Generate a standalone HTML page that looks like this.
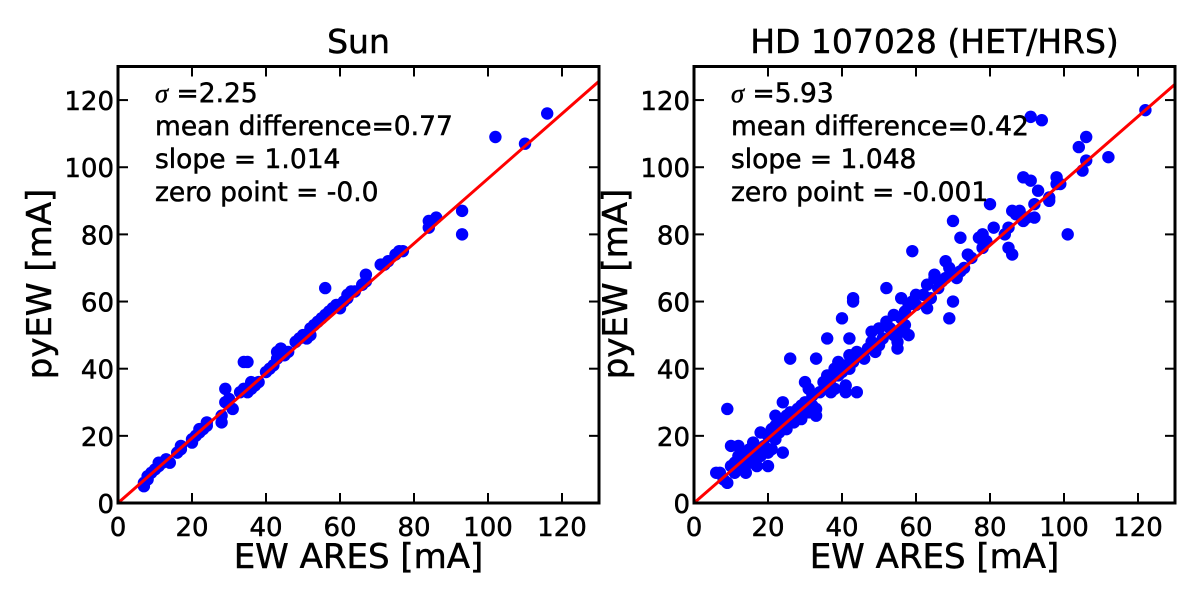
<!DOCTYPE html>
<html><head><meta charset="utf-8"><style>
html,body{margin:0;padding:0;background:#fff;}
svg text{font-family:"DejaVu Sans","Liberation Sans",sans-serif;fill:#000;stroke:#000;stroke-width:0.5;}
</style></head><body>
<svg id="chart" width="1200" height="598" viewBox="0 0 1200 598" xmlns="http://www.w3.org/2000/svg"></svg>
<script>
const xTicks=[0,20,40,60,80,100,120];
const yTicks=[0,20,40,60,80,100,120];
const sunX=[7,7,8,8,9,10,11,11,12,13,14,16,17,17,20,20,21,22,22,23,24,24,28,28,29,29,30,31,33,34,34,35,35,36,36,37,38,40,41,42,43,43,44,45,46,48,49,50,51,52,52,53,54,55,56,56,57,58,59,60,61,62,62,63,64,66,67,67,71,72,73,75,76,77,84,84,85,86,93,93,102,110,116];
const sunY=[5,6,7,8,9,10,11,12,12,13,12,15,16,17,18,19,20,21,22,22,23,24,24,26,34,30,31,28,33,34,42,42,33,34,36,35,36,39,40,41,43,45,46,44,45,48,49,50,49,50,52,53,54,55,56,64,57,58,59,58,60,61,62,63,63,65,66,68,71,71,72,74,75,75,84,82,84,85,87,80,109,107,116];
const hdX=[6,7,8,9,9,10,10,11,11,12,12,13,13,14,14,15,15,16,16,17,17,18,18,19,20,20,20,21,21,22,22,22,23,23,24,24,24,25,25,26,26,27,28,28,29,29,30,30,31,31,32,32,33,33,33,34,35,36,36,37,37,38,38,39,39,40,40,41,41,41,42,42,42,43,43,43,44,44,45,46,47,48,48,49,50,50,51,52,52,53,54,54,55,55,56,56,56,57,57,58,58,59,59,60,60,62,63,63,64,65,65,66,67,68,68,69,69,70,70,70,71,72,72,73,74,75,77,78,78,79,80,81,84,85,85,86,86,87,88,89,89,90,91,91,92,92,93,94,96,96,98,98,99,101,104,105,106,106,112,122];
const hdY=[9,9,7,6,28,17,11,12,9,17,14,10,15,9,13,12,16,18,13,11,15,14,21,17,15,11,20,22,16,26,19,23,24,21,30,15,25,26,22,27,43,24,26,28,25,29,30,36,34,27,32,29,26,43,28,33,36,38,49,37,33,34,40,42,38,39,55,33,41,35,44,49,40,60,61,42,45,33,44,43,46,48,51,45,47,52,49,64,54,52,56,50,48,46,51,55,61,57,53,50,59,75,60,62,59,62,65,58,61,67,68,64,66,72,67,70,55,60,84,68,67,79,69,70,74,73,79,80,76,78,89,82,80,76,82,87,74,86,87,97,84,85,96,115,85,89,93,114,91,90,97,95,95,80,106,99,109,102,103,117];
const fitEnd=[125.6,124.7];
const titles=["Sun","HD 107028 (HET/HRS)"];
const notes=[[" =2.25","mean difference=0.77","slope = 1.014","zero point = -0.0"],[" =5.93","mean difference=0.42","slope = 1.048","zero point = -0.001"]];
const panels=[{l:118,r:599,xs:sunX,ys:sunY},{l:694,r:1175,xs:hdX,ys:hdY}];
const plotTop=66.5,bot=503,NS="http://www.w3.org/2000/svg";
const svg=document.getElementById('chart');
function mk(tag,attrs,parent){const e=document.createElementNS(NS,tag);for(const k in attrs)e.setAttribute(k,attrs[k]);(parent||svg).appendChild(e);return e;}
panels.forEach((p,i)=>{
  const sx=v=>p.l+(p.r-p.l)*v/130, sy=v=>bot-(bot-plotTop)*v/130;
  const g=mk('g',{});
  
  
  const clip=mk('clipPath',{id:'c'+i},g);mk('rect',{x:p.l,y:plotTop,width:p.r-p.l,height:bot-plotTop},clip);
  const pts=mk('g',{'clip-path':'url(#c'+i+')'},g);
  
  
  p.xs.forEach((x,j)=>{const c=mk('circle',{cx:sx(x),cy:sy(p.ys[j]),r:6.2,fill:'#0000ff'},pts);
    
    });
  const ln=mk('line',{x1:sx(0),y1:sy(0),x2:sx(130),y2:sy(fitEnd[i]),stroke:'#ff0000','stroke-width':3},pts);
  
  
  xTicks.forEach(t=>{const x=sx(t);mk('line',{x1:x,y1:bot,x2:x,y2:bot-10,stroke:'#000','stroke-width':2},g);mk('line',{x1:x,y1:plotTop,x2:x,y2:plotTop+10,stroke:'#000','stroke-width':2},g);
    const tx=mk('text',{x:x,y:bot+33,'font-size':26,'text-anchor':'middle'},g);tx.textContent=t;
    
    });
  yTicks.forEach(t=>{const y=sy(t);mk('line',{x1:p.l,y1:y,x2:p.l+10,y2:y,stroke:'#000','stroke-width':2},g);mk('line',{x1:p.r,y1:y,x2:p.r-10,y2:y,stroke:'#000','stroke-width':2},g);
    const tx=mk('text',{x:p.l-4,y:y+10,'font-size':26,'text-anchor':'end'},g);tx.textContent=t;
    
    });
  mk('rect',{x:p.l,y:plotTop,width:p.r-p.l,height:bot-plotTop,fill:'none',stroke:'#000','stroke-width':3},g);
  const cx=(p.l+p.r)/2;
  const tt=mk('text',{x:cx,y:53,'font-size':33,'text-anchor':'middle'},g);tt.textContent=titles[i];
  
  
  const xl=mk('text',{x:cx,y:568,'font-size':34,'text-anchor':'middle'},g);xl.textContent='EW ARES [mA]';
  
  
  const yl=mk('text',{x:0,y:0,'font-size':34,'text-anchor':'middle',transform:'translate('+(p.l-67)+',284) rotate(-90)'},g);yl.textContent='pyEW [mA]';
  
  
  const nt=mk('text',{x:p.l+37,y:102,'font-size':26.5},g);
  
  
  notes[i].forEach((s,k)=>{const ts=mk('tspan',{x:p.l+37,y:102+k*33},nt);
    if(k===0){const sg=mk('tspan',{'font-style':'italic','font-family':'Liberation Serif,serif'},ts);sg.textContent='σ';const r=mk('tspan',{},ts);r.textContent=s;}
    else ts.textContent=s;});
});
</script>
</body></html>
